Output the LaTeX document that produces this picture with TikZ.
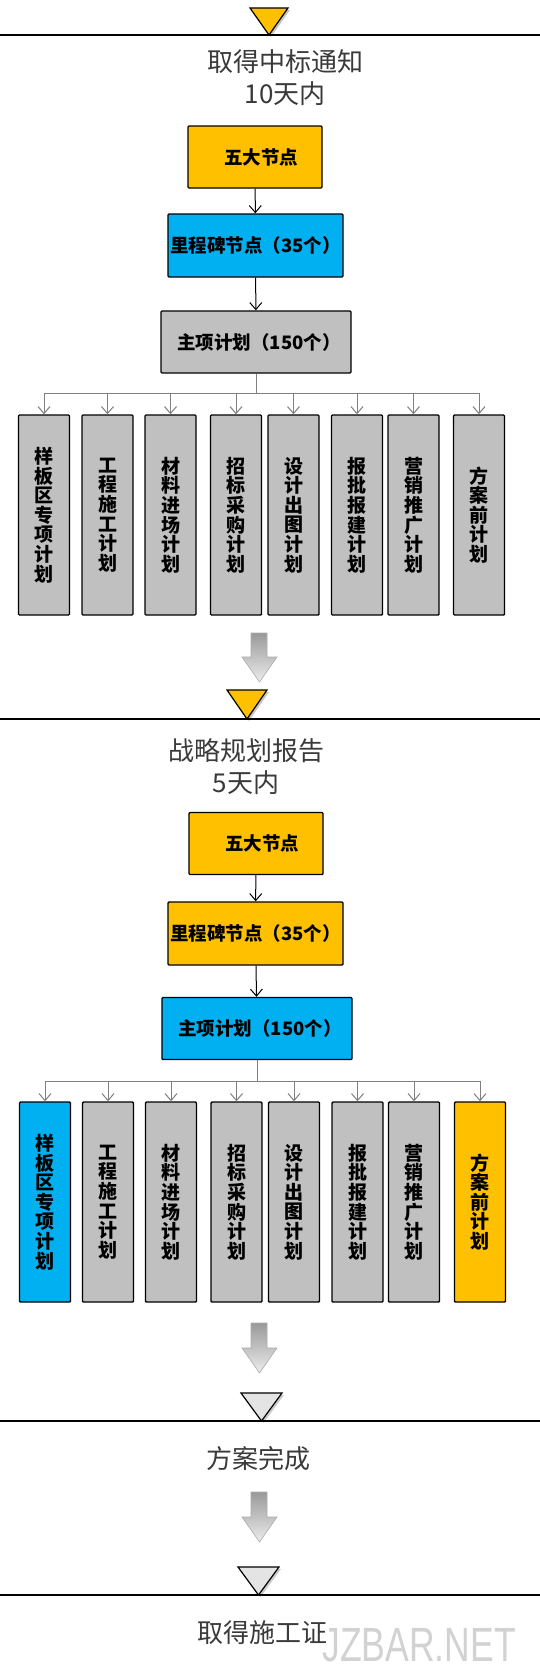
\documentclass[tikz,border=0pt]{standalone}
\usepackage{fontspec}
\usepackage{graphicx}
\setmainfont{Liberation Sans}
\newfontfamily\cjk{Noto Sans CJK SC}
\usetikzlibrary{arrows.meta}
\definecolor{ylw}{HTML}{FFC000}
\definecolor{blu}{HTML}{00B0F0}
\definecolor{gry}{HTML}{C0C0C0}
\definecolor{tri}{HTML}{E4E4E4}
\definecolor{txt}{HTML}{3A3A3A}
\begin{document}
\begin{tikzpicture}[x=1pt,y=-1pt,
 box/.style={draw=black,line width=1.4pt,rounded corners=1pt,inner sep=0pt,
   font=\cjk\bfseries\fontsize{18.5}{20}\selectfont},
 b1/.style={box,minimum width=134pt,minimum height=62pt},
 b2/.style={box,minimum width=175pt,minimum height=63pt},
 b3/.style={box,minimum width=190pt,minimum height=62pt},
 vbox/.style={box,minimum width=51pt,minimum height=200pt,align=center,
   font=\cjk\bfseries\fontsize{19}{19.6}\selectfont},
 title/.style={align=center,text=txt,inner sep=0pt,font=\cjk\fontsize{26}{32}\selectfont},
 barr/.style={draw=black,line width=1pt,-{Straight Barb[length=7pt,width=12pt]}},
 garr/.style={draw=gray,line width=1pt,-{Straight Barb[length=7pt,width=12pt]}},
 bus/.style={draw=gray,line width=1pt},
 tline/.style={line width=1.4pt},
 tri/.style={draw=black,line width=1.2pt,line join=miter},
 bigarrow/.style={top color=gray!80,bottom color=gray!15,draw=gray!65,line width=0.6pt}
]
\useasboundingbox (0,0) rectangle (540,1670);
\fill[white] (0,0) rectangle (540,1670);

% ---------- section 1 ----------
\fill[gray!45] (252,10) -- (290,10) -- (271,37) -- cycle;
\filldraw[tri,fill=ylw] (250,8) -- (288,8) -- (269,35) -- cycle;
\draw[tline] (0,35) -- (540,35);
\node[title] (t1) at (285,78) {取得中标通知\\10天内};

\node[b1,fill=ylw] (p1) at (255,157) {\hspace*{12pt}五大节点};
\node[b2,fill=blu] (p2) at (255.5,245.5) {里程碑节点（35个）};
\node[b3,fill=gry] (p3) at (256,342) {\hspace*{6pt}主项计划（150个）};
\draw[barr] (p1) -- (p2);
\draw[barr] (p2) -- (p3);

\node[vbox,fill=gry] (c1) at (44,515) {样\\板\\区\\专\\项\\计\\划};
\node[vbox,fill=gry] (c2) at (107.5,515) {工\\程\\施\\工\\计\\划};
\node[vbox,fill=gry] (c3) at (170.5,515) {材\\料\\进\\场\\计\\划};
\node[vbox,fill=gry] (c4) at (236,515) {招\\标\\采\\购\\计\\划};
\node[vbox,fill=gry] (c5) at (293.5,515) {设\\计\\出\\图\\计\\划};
\node[vbox,fill=gry] (c6) at (357,515) {报\\批\\报\\建\\计\\划};
\node[vbox,fill=gry] (c7) at (413.5,515) {营\\销\\推\\广\\计\\划};
\node[vbox,fill=gry] (c8) at (479,515) {方\\案\\前\\计\\划};

\coordinate (u1) at (256,393);
\draw[bus] (p3.south) -- (u1);
\draw[bus] (u1 -| c1.north) -- (u1 -| c8.north);
\foreach \c in {c1,c2,c3,c4,c5,c6,c7,c8}
  \draw[garr] (u1 -| \c.north) -- (\c.north);

\shade[bigarrow] (251,633) -- (267,633) -- (267,657) -- (277,657) -- (259.5,682) -- (242,657) -- (251,657) -- cycle;

% ---------- section 2 ----------
\fill[gray!45] (229,692) -- (269,692) -- (249,721) -- cycle;
\filldraw[tri,fill=ylw] (227,690) -- (267,690) -- (247,719) -- cycle;
\draw[tline] (0,719) -- (540,719);
\node[title] (t2) at (246,767) {战略规划报告\\5天内};

\node[b1,fill=ylw] (q1) at (256,843.5) {\hspace*{12pt}五大节点};
\node[b2,fill=ylw] (q2) at (255.5,933.5) {里程碑节点（35个）};
\node[b3,fill=blu] (q3) at (257,1028.5) {\hspace*{6pt}主项计划（150个）};
\draw[barr] (q1) -- (q2);
\draw[barr] (q2) -- (q3);

\node[vbox,fill=blu] (d1) at (45,1202) {样\\板\\区\\专\\项\\计\\划};
\node[vbox,fill=gry] (d2) at (108,1202) {工\\程\\施\\工\\计\\划};
\node[vbox,fill=gry] (d3) at (171,1202) {材\\料\\进\\场\\计\\划};
\node[vbox,fill=gry] (d4) at (236.5,1202) {招\\标\\采\\购\\计\\划};
\node[vbox,fill=gry] (d5) at (294,1202) {设\\计\\出\\图\\计\\划};
\node[vbox,fill=gry] (d6) at (357.5,1202) {报\\批\\报\\建\\计\\划};
\node[vbox,fill=gry] (d7) at (414,1202) {营\\销\\推\\广\\计\\划};
\node[vbox,fill=ylw] (d8) at (480,1202) {方\\案\\前\\计\\划};

\coordinate (u2) at (257,1081);
\draw[bus] (q3.south) -- (u2);
\draw[bus] (u2 -| d1.north) -- (u2 -| d8.north);
\foreach \c in {d1,d2,d3,d4,d5,d6,d7,d8}
  \draw[garr] (u2 -| \c.north) -- (\c.north);

\shade[bigarrow] (251,1323) -- (267,1323) -- (267,1348) -- (277,1348) -- (259.5,1373) -- (242,1348) -- (251,1348) -- cycle;

% ---------- section 3 ----------
\fill[gray!40] (243,1395) -- (284,1395) -- (263.5,1423) -- cycle;
\filldraw[tri,fill=tri] (241,1393) -- (282,1393) -- (261.5,1421) -- cycle;
\draw[tline] (0,1421) -- (540,1421);
\node[title] (t3) at (258,1459) {方案完成};

\shade[bigarrow] (251,1492) -- (267,1492) -- (267,1517) -- (277,1517) -- (259.5,1542) -- (242,1517) -- (251,1517) -- cycle;

% ---------- section 4 ----------
\fill[gray!40] (240,1569) -- (281,1569) -- (260.5,1597) -- cycle;
\filldraw[tri,fill=tri] (238,1567) -- (279,1567) -- (258.5,1595) -- cycle;
\draw[tline] (0,1595) -- (540,1595);
\node[title] (t4) at (262,1633) {取得施工证};

\node[text=gray!35,inner sep=0pt] (wm) at (419,1645)
  {\scalebox{0.74}[1]{\fontsize{48}{48}\selectfont JZBAR.NET}};
\end{tikzpicture}
\end{document}
